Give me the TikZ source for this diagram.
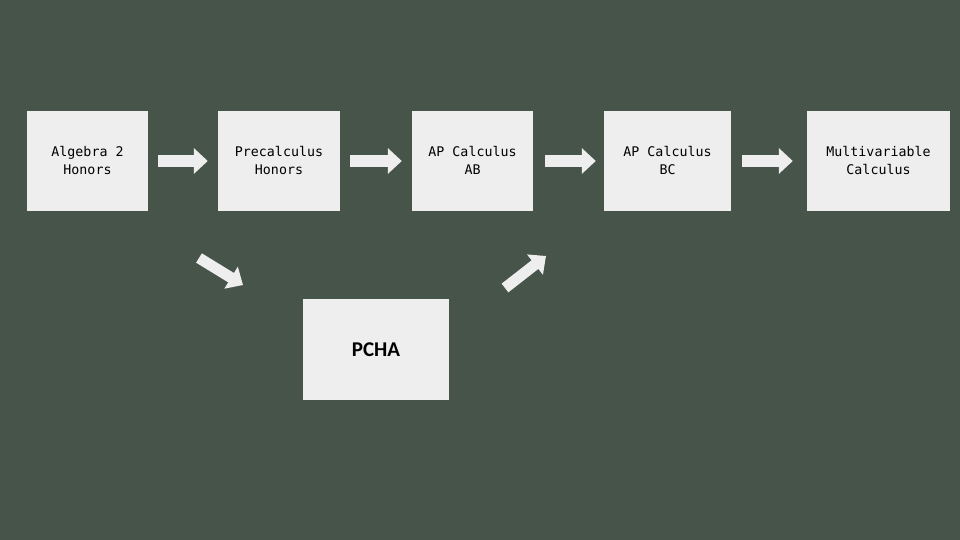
\documentclass[tikz,border=0pt]{standalone}
\usepackage{fontspec}
\newfontfamily\boxfont{DejaVu Sans Mono}
\newfontfamily\pchafont{Carlito}
\usepackage{xcolor}
\usepackage{tikz}
\usetikzlibrary{
  arrows.meta,
  positioning,
  calc}
\definecolor{board}{RGB}{71,84,74}
\definecolor{paper}{RGB}{238,238,238}
\tikzset{course/.style={fill=paper, minimum height=100pt, inner sep=0pt, align=center,
           font=\boxfont\fontsize{13.3}{18}\selectfont},
         bigarrow/.style={draw=paper, line width=12pt, -{Triangle[width=25pt,length=14pt]}},
         gap/.style={shorten <=10pt, shorten >=10pt}
        }

\begin{document}
\begin{tikzpicture}[x=1pt, y=-1pt]
%Background
\fill[board] (0,0) rectangle (960,540);
\useasboundingbox (0,0) rectangle (960,540);

%Top Row
\node[course, minimum width=121pt, text depth=1pt] at (87.5,161)(alg){Algebra 2\\Honors};
\node[course, minimum width=122pt, text depth=1pt] at (279,161)(pre){Precalculus\\Honors};
\node[course, minimum width=121pt, text depth=1pt] at (472.5,161)(ab){AP Calculus\\AB};
\node[course, minimum width=127pt, text depth=1pt] at (667.5,161)(bc){AP Calculus\\BC};
\node[course, minimum width=143pt, text depth=1pt] at (878.5,161)(multi){Multivariable\\Calculus};

\draw[bigarrow, gap] (alg.east) -- (pre.west);
\draw[bigarrow, gap] (pre.east) -- (ab.west);
\draw[bigarrow, shorten <=12pt, shorten >=8pt] (ab.east) -- (bc.west);
\draw[bigarrow, shorten <=11pt, shorten >=14pt] (bc.east) -- (multi.west);

%Second Path
\node[course, minimum width=146pt, minimum height=101pt, font=\pchafont\bfseries\fontsize{21}{24}\selectfont] at (376,349.5)(pcha){PCHA};

\coordinate (in0) at (199,258);
\coordinate (in1) at (243,285);
\coordinate (out0) at (505,288);
\coordinate (out1) at (546,256);

\draw[bigarrow, line width=11pt] (in0) -- (in1);
\draw[bigarrow, line width=11pt] (out0) -- (out1);
\end{tikzpicture}
\end{document}
